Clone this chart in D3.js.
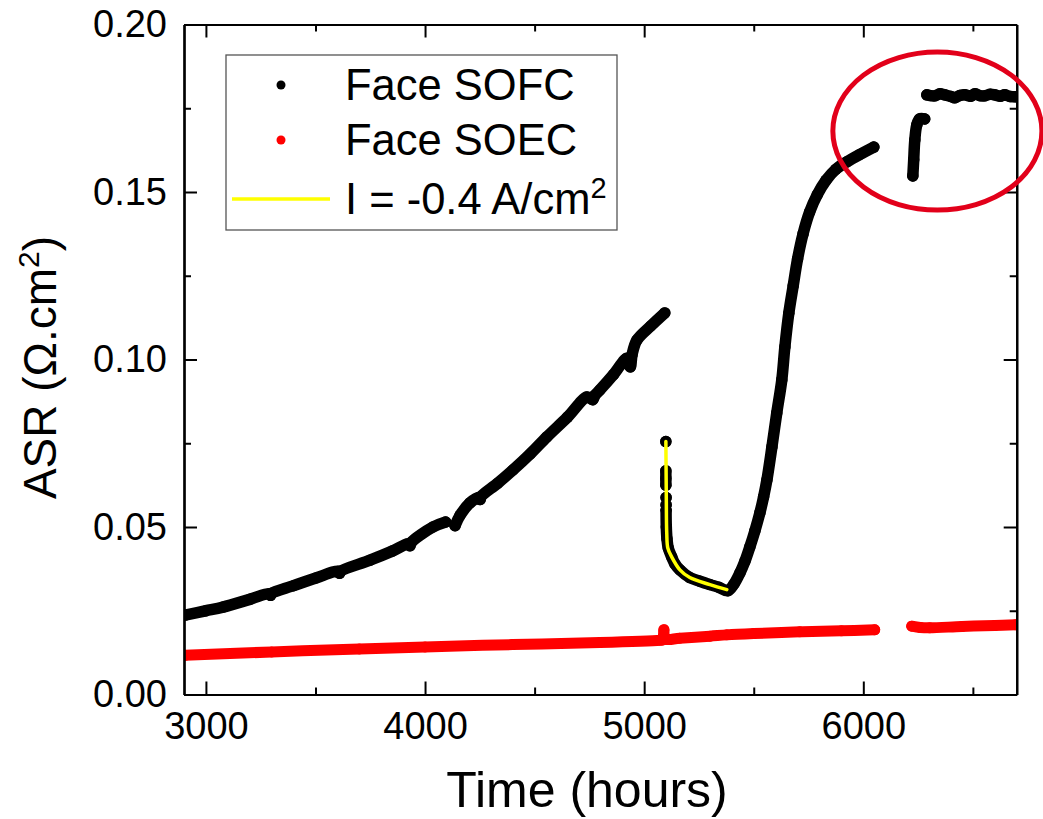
<!DOCTYPE html>
<html><head><meta charset="utf-8">
<script src="https://cdn.jsdelivr.net/npm/d3@7"></script>
<style>
body{margin:0;background:#fff}
svg{display:block}
text{font-family:"Liberation Sans",Arial,Helvetica,sans-serif;fill:#000}
</style>
</head><body>
<svg id="chart" width="1043" height="819"></svg>
<script>
// ---------------- data ----------------
const xTicks = [3000, 4000, 5000, 6000];
const xMinorTicks = [3500, 4500, 5500, 6500];
const yTicks = [0, 0.05, 0.10, 0.15, 0.20];
const yTickLabels = ["0.00", "0.05", "0.10", "0.15", "0.20"];
const yMinorTicks = [0.025, 0.075, 0.125, 0.175];

// Face SOFC (null = gap in the record)
const sofcTime = [
  2905,3000,3078,3200,3290,3295,3300,3400,3502,3605,3610,3615,3749,3850,3925,3931,3937,4036,4094,
  null,
  4137,4160,4205,4245,4251,4257,4330,4401,4480,4556,4650,4739,4765,4775,4798,4860,4921,4930,4937,4945,4967,5030,5094,
  null,
  5099,
  null,
  5099,5099,5099,
  null,
  5100,
  null,
  5100,
  null,
  5100,5101,5104,5110,5126,5140,5163,5208,5254,5300,5340,5382,5410,5437,5460,5482,5505,5528,5545,5560,5583,5605,5628,5642,5660,5680,5700,5725,5755,5790,5830,5875,5925,5984,6048,
  null,
  6226,6230,6235,6244,6257,6280,
  null,
  6290,6326,6350,6372,6400,6417,6440,6463,6490,6509,6530,6554,6580,6600,6625,6645,6670,6695
];
const sofcASR = [
  0.0237,0.0250,0.0261,0.0284,0.0301,0.0296,0.0302,0.0325,0.0348,0.0368,0.0362,0.0368,0.0401,0.0428,0.0450,0.0444,0.0454,0.0500,0.0515,
  null,
  0.0504,0.0535,0.0572,0.0588,0.0582,0.0592,0.0630,0.0670,0.0718,0.0769,0.0828,0.0888,0.0880,0.0893,0.0909,0.0955,0.1004,0.0985,0.0978,0.1015,0.1058,0.1100,0.1139,
  null,
  0.0755,
  null,
  0.0668,0.0645,0.0625,
  null,
  0.0588,
  null,
  0.0566,
  null,
  0.0550,0.0500,0.0465,0.0437,0.0410,0.0390,0.0372,0.0349,0.0338,0.0328,0.0320,0.0310,0.0330,0.0363,0.0398,0.0440,0.0488,0.0542,0.0590,0.0640,0.0739,0.0840,0.0939,0.1037,0.1138,0.1220,0.1300,0.1375,0.1440,0.1492,0.1535,0.1568,0.1590,0.1612,0.1634,
  null,
  0.1548,0.1596,0.1655,0.1700,0.1718,0.1718,
  null,
  0.1790,0.1787,0.1793,0.1790,0.1785,0.1781,0.1788,0.1790,0.1786,0.1793,0.1788,0.1787,0.1792,0.1790,0.1786,0.1790,0.1785,0.1784
];

// Face SOEC
const soecTime = [2905,3300,3700,4000,4400,4798,5072,5084,5090,5096,5162,5300,5377,5500,5710,5900,6052,
  null,
  6221,6260,6303,6450,6600,6695];
const soecASR = [0.0117,0.0127,0.0136,0.0142,0.0149,0.0155,0.0162,0.0163,0.0193,0.0166,0.0168,0.0174,0.0178,0.0182,0.0187,0.0190,0.0193,
  null,
  0.0204,0.0200,0.0199,0.0203,0.0206,0.0208];

// I = -0.4 A/cm2 fit
const fitTime = [5099,5100,5101,5103,5108,5126,5163,5208,5300,5377];
const fitASR  = [0.0755,0.0670,0.0581,0.0482,0.0437,0.0410,0.0372,0.0349,0.0328,0.0313];

const legendLabels = ["Face SOFC", "Face SOEC", "I = -0.4 A/cm"];
// highlighted region (data units)
const note = {t: 6338, asr: 0.1682, dt: 477, dasr: 0.0236};

// ---------------- layout ----------------
const svg = d3.select("#chart");
const L = 184, R = 1016.7, T = 24.5, B = 694.5;
const x = d3.scaleLinear().domain([2900, 6700]).range([L, R]);
const y = d3.scaleLinear().domain([0, 0.20]).range([B, T]);

const toPts = (ts, vs) => ts.map((t, i) => ({t, v: vs[i]}));
const sofc = toPts(sofcTime, sofcASR);
const soec = toPts(soecTime, soecASR);
const fit = toPts(fitTime, fitASR);

svg.append("defs").append("clipPath").attr("id", "plotclip")
  .append("rect").attr("x", L).attr("y", T).attr("width", R - L).attr("height", B - T);

const line = d3.line().defined(d => d.v != null && d.t != null)
  .x(d => x(d.t)).y(d => y(d.v)).curve(d3.curveCatmullRom.alpha(0.5));
const g = svg.append("g").attr("clip-path", "url(#plotclip)");

// SOEC
g.append("path").attr("d", line(soec)).attr("fill", "none").attr("stroke", "#ff0000")
  .attr("stroke-width", 11).attr("stroke-linecap", "round").attr("stroke-linejoin", "round");
g.selectAll("circle.soec").data(soec.filter(d => d.v != null)).enter().append("circle")
  .attr("class", "soec").attr("cx", d => x(d.t)).attr("cy", d => y(d.v)).attr("r", 5.5).attr("fill", "#ff0000");

// SOFC
g.append("path").attr("d", line(sofc)).attr("fill", "none").attr("stroke", "#000")
  .attr("stroke-width", 11.5).attr("stroke-linecap", "round").attr("stroke-linejoin", "round");
g.selectAll("circle.sofc").data(sofc.filter(d => d.v != null)).enter().append("circle")
  .attr("class", "sofc").attr("cx", d => x(d.t)).attr("cy", d => y(d.v)).attr("r", 5.75).attr("fill", "#000");

// fit
g.append("path").attr("d", line(fit)).attr("fill", "none").attr("stroke", "#ffff00")
  .attr("stroke-width", 3.5).attr("stroke-linecap", "round").attr("stroke-linejoin", "round");

// ---------------- axes ----------------
function styleAxis(sel) {
  sel.select(".domain").attr("stroke", "#000").attr("stroke-width", 2.2);
  sel.selectAll(".tick line").attr("stroke", "#000").attr("stroke-width", 2);
  sel.selectAll("text").style("font-size", "38px").attr("fill", "#000");
}
const fmtY = v => yTickLabels[yTicks.findIndex(t => Math.abs(t - v) < 1e-9)];

const gxB = svg.append("g").attr("transform", `translate(0,${B})`)
  .call(d3.axisBottom(x).tickValues(xTicks).tickSizeInner(-13).tickSizeOuter(0).tickPadding(18).tickFormat(d3.format("d")));
styleAxis(gxB);
const gxBm = svg.append("g").attr("transform", `translate(0,${B})`)
  .call(d3.axisBottom(x).tickValues(xMinorTicks).tickSizeInner(-7).tickSizeOuter(0).tickFormat(""));
styleAxis(gxBm);
const gxT = svg.append("g").attr("transform", `translate(0,${T})`)
  .call(d3.axisTop(x).tickValues(xTicks).tickSizeInner(-13).tickSizeOuter(0).tickFormat(""));
styleAxis(gxT);
const gxTm = svg.append("g").attr("transform", `translate(0,${T})`)
  .call(d3.axisTop(x).tickValues(xMinorTicks).tickSizeInner(-7).tickSizeOuter(0).tickFormat(""));
styleAxis(gxTm);

const gyL = svg.append("g").attr("transform", `translate(${L},0)`)
  .call(d3.axisLeft(y).tickValues(yTicks).tickSizeInner(-13).tickSizeOuter(0).tickPadding(17).tickFormat(fmtY));
styleAxis(gyL);
const gyLm = svg.append("g").attr("transform", `translate(${L},0)`)
  .call(d3.axisLeft(y).tickValues(yMinorTicks).tickSizeInner(-7).tickSizeOuter(0).tickFormat(""));
styleAxis(gyLm);
const gyR = svg.append("g").attr("transform", `translate(${R},0)`)
  .call(d3.axisRight(y).tickValues(yTicks).tickSizeInner(-13).tickSizeOuter(0).tickFormat(""));
styleAxis(gyR);
const gyRm = svg.append("g").attr("transform", `translate(${R},0)`)
  .call(d3.axisRight(y).tickValues(yMinorTicks).tickSizeInner(-7).tickSizeOuter(0).tickFormat(""));
styleAxis(gyRm);

// axis titles
svg.append("text").attr("x", 587).attr("y", 807).attr("text-anchor", "middle")
  .style("font-size", "50px").text("Time (hours)");
const yt = svg.append("text").attr("transform", `translate(56,${(T + B) / 2 + 8}) rotate(-90)`)
  .attr("text-anchor", "middle").style("font-size", "46px");
yt.append("tspan").text("ASR (\u03A9.cm");
yt.append("tspan").attr("dy", -17).style("font-size", "30px").text("2");
yt.append("tspan").attr("dy", 17).text(")");

// ---------------- legend ----------------
const lg = svg.append("g");
lg.append("rect").attr("x", 226).attr("y", 55).attr("width", 391).attr("height", 175)
  .attr("fill", "#fff").attr("stroke", "#555").attr("stroke-width", 1.3);
const rows = [85, 140, 199];
lg.append("circle").attr("cx", 281).attr("cy", rows[0]).attr("r", 4.5).attr("fill", "#000");
lg.append("circle").attr("cx", 281).attr("cy", rows[1]).attr("r", 4.5).attr("fill", "#ff0000");
lg.append("line").attr("x1", 232).attr("x2", 330).attr("y1", rows[2]).attr("y2", rows[2])
  .attr("stroke", "#ffff00").attr("stroke-width", 3.5);
lg.append("text").attr("x", 345).attr("y", 100).style("font-size", "43.5px").text(legendLabels[0]);
lg.append("text").attr("x", 345).attr("y", 155).style("font-size", "43.5px").text(legendLabels[1]);
const l3 = lg.append("text").attr("x", 345).attr("y", 214).style("font-size", "43.5px");
l3.append("tspan").text(legendLabels[2]);
l3.append("tspan").attr("dy", -16).style("font-size", "29px").text("2");

// ---------------- annotation ----------------
svg.append("ellipse")
  .attr("cx", x(note.t)).attr("cy", y(note.asr))
  .attr("rx", x(note.t + note.dt) - x(note.t)).attr("ry", y(note.asr) - y(note.asr + note.dasr))
  .attr("fill", "none").attr("stroke", "#e2001a").attr("stroke-width", 5);
</script>
</body></html>
